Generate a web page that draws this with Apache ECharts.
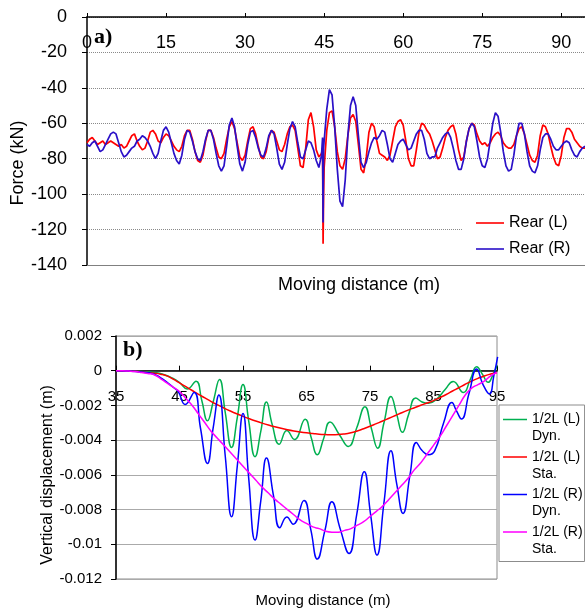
<!DOCTYPE html>
<html>
<head>
<meta charset="utf-8">
<script src="https://cdn.jsdelivr.net/npm/echarts@6/dist/echarts.min.js"></script>
<style>
html,body{margin:0;padding:0;background:#fff;}
#chart{width:585px;height:610px;}
</style>
</head>
<body>
<div id="chart"></div>
<script>
// ---- panel a) : rear wheel forces (kN) vs moving distance (m)
var distA = [0,0.5,1,1.5,2,2.5,3,3.5,4,4.5,5,5.5,6,6.5,7,7.5,8,8.5,9,9.5,
    10,10.5,11,11.5,12,12.5,13,13.5,14,14.5,15,15.5,16,16.5,17,17.5,18,18.5,19,19.5,
    20,20.5,21,21.5,22,22.5,23,23.5,24,24.5,25,25.5,26,26.5,27,27.5,28,28.5,29,29.5,
    30,30.5,31,31.5,32,32.5,33,33.5,34,34.5,35,35.5,36,36.5,37,37.5,38,38.5,39,39.5,
    40,40.5,41,41.5,42,42.5,43,43.5,44,44.5,44.7,44.8,44.9,
    45,45.5,46,46.5,47,47.5,48,48.5,49,49.5,50,50.5,51,51.5,52,52.5,53,53.5,54,54.5,
    55,55.5,56,56.5,57,57.5,58,58.5,59,59.5,60,60.5,61,61.5,62,62.5,63,63.5,64,64.5,
    65,65.5,66,66.5,67,67.5,68,68.5,69,69.5,70,70.5,71,71.5,72,72.5,73,73.5,74,74.5,
    75,75.5,76,76.5,77,77.5,78,78.5,79,79.5,80,80.5,81,81.5,82,82.5,83,83.5,84,84.5,
    85,85.5,86,86.5,87,87.5,88,88.5,89,89.5,90,90.5,91,91.5,92,92.5,93,93.5,94,94.5];
var rearL = [-71,-69,-68,-70,-72,-71,-70,-72,-71,-70,-71,-72,-73,-72,-74,-73,-70,-67,-66,-70,
    -73,-75,-74,-70,-65,-64,-66,-70,-71,-68,-66,-67,-70,-73,-75,-76,-73,-67,-64,-64,
    -69,-76,-81,-82,-78,-70,-64,-64,-68,-74,-79,-80,-77,-69,-62,-59,-63,-71,-79,-81,
    -78,-70,-63,-62,-66,-73,-79,-80,-76,-68,-64,-65,-70,-75,-76,-72,-66,-62,-61,-64,
    -74,-84,-85,-74,-58,-54,-62,-75,-79,-77,-74,-128,-100,
    -85,-64,-54,-53,-62,-76,-84,-86,-80,-67,-57,-55,-59,-72,-86,-88,-79,-65,-60,-62,
    -70,-77,-78,-79,-81,-78,-70,-62,-59,-58,-61,-70,-80,-84,-84,-75,-65,-60,-61,-64,
    -66,-70,-75,-80,-79,-74,-68,-64,-62,-61,-66,-75,-81,-79,-70,-63,-60,-61,-66,-70,
    -72,-71,-73,-71,-68,-66,-65,-67,-71,-73,-74,-74,-72,-67,-63,-62,-66,-72,-78,-81,
    -82,-78,-67,-61,-62,-66,-73,-79,-83,-84,-78,-68,-63,-63,-65,-69,-71,-73,-74,-74];
var rearR = [-72,-73,-71,-70,-73,-76,-75,-72,-69,-66,-65,-66,-71,-76,-79,-78,-76,-74,-73,-70,
    -69,-67,-68,-70,-73,-77,-80,-77,-70,-64,-62,-65,-71,-77,-81,-83,-78,-69,-64,-65,
    -70,-76,-80,-81,-76,-69,-64,-64,-69,-77,-84,-87,-84,-73,-61,-57,-62,-73,-83,-87,
    -82,-72,-65,-64,-68,-74,-78,-79,-74,-67,-64,-66,-74,-83,-86,-82,-72,-63,-59,-62,
    -71,-79,-80,-75,-70,-71,-75,-81,-85,-78,-68,-116,-74,
    -70,-52,-41,-44,-62,-86,-104,-107,-92,-67,-50,-45,-50,-67,-82,-85,-82,-76,-71,-68,
    -69,-67,-64,-65,-72,-80,-82,-77,-72,-70,-69,-72,-75,-74,-70,-66,-64,-64,-69,-77,
    -80,-79,-79,-74,-71,-68,-66,-65,-68,-74,-81,-86,-86,-80,-70,-63,-60,-62,-70,-79,
    -84,-85,-80,-70,-60,-54,-56,-65,-76,-84,-87,-86,-78,-67,-60,-60,-66,-76,-84,-87,
    -88,-84,-75,-68,-66,-66,-69,-73,-75,-75,-73,-71,-70,-71,-75,-78,-79,-76,-74,-73];

// ---- panel b) : mid-span (1/2L) vertical displacement (m)
var distStatic = [35,36,37,38,39,40,41,42,43,44,45,46,47,48,49,50,51,52,53,54,55,56,57,58,59,60,
    61,62,63,64,65,66,67,68,69,70,71,72,73,74,75,76,77,78,79,80,81,82,83,84,85,86,87,88,89,90,
    91,92,93,94,95];
var staLeft = [0,0,-0.00001,-0.00003,-0.00006,-0.0001,-0.00014,-0.0002,-0.0003,-0.00048,-0.0007,
    -0.00092,-0.00114,-0.00136,-0.00157,-0.00178,-0.00197,-0.00215,-0.00232,-0.00248,-0.00263,
    -0.00277,-0.0029,-0.00302,-0.00313,-0.00323,-0.00332,-0.0034,-0.00347,-0.00353,-0.00358,
    -0.00362,-0.00366,-0.00368,-0.00369,-0.00368,-0.00364,-0.00357,-0.00347,-0.00334,-0.0032,
    -0.00305,-0.0029,-0.00274,-0.00258,-0.00242,-0.00227,-0.00213,-0.00199,-0.00186,-0.00172,
    -0.00155,-0.00137,-0.00117,-0.00098,-0.00078,-0.0006,-0.00044,-0.0003,-0.00019,-0.0001];
var staRight = [0,0,-0.00002,-0.00005,-0.0001,-0.00016,-0.00023,-0.00045,-0.0007,-0.00095,-0.0012,
    -0.0016,-0.002,-0.0025,-0.003,-0.0035,-0.0039,-0.0043,-0.0047,-0.0051,-0.0055,
    -0.0059,-0.0063,-0.0067,-0.00705,-0.0074,-0.0077,-0.008,-0.0083,-0.0086,-0.0088,
    -0.009,-0.0091,-0.00925,-0.0093,-0.0093,-0.0092,-0.0091,-0.0089,-0.0087,-0.0084,
    -0.0081,-0.0078,-0.0074,-0.007,-0.0066,-0.0062,-0.0057,-0.0053,-0.0048,-0.0043,
    -0.0038,-0.0032,-0.0026,-0.002,-0.0014,-0.001,-0.0008,-0.0006,-0.0003,-0.0001];

var distDynL = [35,37,39,41,42.5,44,45,46.2,47.6,48.5,49.4,50.3,51.3,52.2,53.2,54.1,55,55.9,56.9,
    57.8,58.7,59.6,60.7,61.9,63.1,64.8,65.7,66.7,67.7,68.7,70.2,71.6,72.9,74.2,75.2,76.2,77.2,
    78.3,79.2,80.1,81.1,82.2,83.2,84.2,85.5,86.8,88.1,89.7,90.8,91.8,92.7,93.6,94.4,95];
var dynLeft = [0,-0.00001,-0.00004,-0.0001,-0.00022,-0.00045,-0.00068,-0.00105,-0.0006,-0.0017,
    -0.00288,-0.0018,-0.0005,-0.0024,-0.00442,-0.0027,-0.0008,-0.0029,-0.00495,-0.0035,-0.0018,
    -0.0031,-0.00423,-0.00344,-0.00396,-0.0028,-0.0038,-0.00484,-0.0039,-0.00295,-0.0037,
    -0.00436,-0.0033,-0.00207,-0.0033,-0.00446,-0.003,-0.00148,-0.0025,-0.00355,-0.0025,
    -0.00157,-0.0018,-0.00188,-0.00163,-0.0011,-0.00062,-0.00125,-0.0005,0.00023,-0.0002,
    -0.00067,-0.0002,0.0003];

var distDynR = [35,37,39,41,42,43,44,44.8,45.9,47.3,48.3,49.4,50.3,51.2,52.2,53.2,54.1,55,55.9,
    56.9,57.8,58.7,59.8,60.8,61.9,62.9,64.6,65.7,66.7,67.9,69,70.3,71.7,72.9,74.1,75.1,76.1,
    77.2,78.3,79.2,80.2,81.3,82.3,83.2,84.2,85.2,86.6,87.9,88.6,89.4,90.6,91.8,92.8,93.8,94.5,95.1];
var dynRight = [0,-0.00002,-0.00008,-0.0002,-0.0004,-0.00065,-0.00095,-0.0012,-0.00195,-0.00125,
    -0.0033,-0.00534,-0.0033,-0.0014,-0.0049,-0.00841,-0.0055,-0.00246,-0.0062,-0.00976,-0.0075,
    -0.00503,-0.0072,-0.00905,-0.00843,-0.00884,-0.00748,-0.0092,-0.01085,-0.0092,-0.00755,
    -0.0091,-0.01053,-0.0083,-0.00582,-0.0083,-0.01062,-0.0076,-0.00461,-0.0065,-0.00822,-0.006,
    -0.00413,-0.0046,-0.00484,-0.0046,-0.003,-0.00183,-0.0023,-0.00278,-0.0013,0.0001,-0.0008,
    -0.00134,-0.0003,0.0008];

var namesB = ['1/2L (L)\nDyn.', '1/2L (L)\nSta.', '1/2L (R)\nDyn.', '1/2L (R)\nSta.'];

function pairs(xs, ys){
    var out = [];
    for(var i = 0; i < xs.length; i++){
        out.push([xs[i], ys[i]]);
    }
    return out;
}

var FONT = '"Liberation Sans", Arial, sans-serif';
var myChart = echarts.init(document.getElementById('chart'));

function lineSeries(name, xi, yi, data, color, smooth, width){
    return {
        name: name,
        type: 'line',
        xAxisIndex: xi,
        yAxisIndex: yi,
        data: data,
        symbol: 'none',
        smooth: smooth,
        lineStyle: { color: color, width: width },
        itemStyle: { color: color }
    };
}

var option = {
    animation: false,
    backgroundColor: '#fff',
    grid: [
        { left: 87, top: 17, width: 498, height: 248 },
        { left: 116, top: 336, width: 381, height: 243, show: true, borderColor: '#8c8c8c', borderWidth: 1 }
    ],
    xAxis: [
        {//---a) distance axis drawn at the top (force = 0)
            type: 'value', gridIndex: 0, min: 0, max: 94.5, interval: 15, position: 'top',
            axisLine: { onZero: false, lineStyle: { color: '#000', width: 1.5 } },
            axisTick: { show: true, inside: false, length: 4, lineStyle: { color: '#000' } },
            axisLabel: { inside: true, margin: 17, fontSize: 18, color: '#000', fontFamily: FONT, showMaxLabel: false },
            splitLine: { show: false }
        },
        {//---b) distance axis moved up to displacement = 0 (243px * 0.012/0.014 above the bottom)
            type: 'value', gridIndex: 1, min: 35, max: 95, interval: 10,
            position: 'bottom', offset: -208.3,
            axisLine: { onZero: false, lineStyle: { color: '#000', width: 1.5 } },
            axisTick: { show: true, inside: true, length: 5, lineStyle: { color: '#000' } },
            axisLabel: { margin: 19, fontSize: 15, color: '#000', fontFamily: FONT },
            splitLine: { show: false }
        },
        {//---a) plain grey bottom edge only
            type: 'value', gridIndex: 0, min: 0, max: 94.5, position: 'bottom',
            axisLine: { onZero: false, lineStyle: { color: '#808080', width: 1 } },
            axisTick: { show: false }, axisLabel: { show: false }, splitLine: { show: false }
        }
    ],
    yAxis: [
        {
            type: 'value', gridIndex: 0, min: -140, max: 0, interval: 20,
            axisLine: { show: true, lineStyle: { color: '#000', width: 1.5 } },
            axisTick: { show: true, length: 5, lineStyle: { color: '#000' } },
            axisLabel: { margin: 20, fontSize: 18, color: '#000', fontFamily: FONT },
            splitLine: { show: true, lineStyle: { color: '#8a8a8a', type: 'dotted', width: 1 } }
        },
        {
            type: 'value', gridIndex: 1, min: -0.012, max: 0.002, interval: 0.002,
            axisLine: { show: true, onZero: false, lineStyle: { color: '#000', width: 1.5 } },
            axisTick: { show: true, length: 5, lineStyle: { color: '#000' } },
            axisLabel: { margin: 14, fontSize: 15, color: '#000', fontFamily: FONT },
            splitLine: { show: true, lineStyle: { color: '#aaaaaa', width: 1 } }
        }
    ],
    legend: [
        {
            data: ['Rear (L)', 'Rear (R)'],
            orient: 'vertical', left: 463, top: 208,
            padding: [7, 20, 7, 13],
            backgroundColor: '#fff',
            itemWidth: 28, itemHeight: 14, itemGap: 10,
            icon: 'path://M0,0L28,0L28,1.6L0,1.6Z',
            textStyle: { fontSize: 16, lineHeight: 14, color: '#000', fontFamily: FONT }
        },
        {
            data: namesB,
            orient: 'vertical', left: 499, top: 405,
            padding: [6, 2, 4, 4],
            backgroundColor: '#fff', borderColor: '#8c8c8c', borderWidth: 1,
            itemWidth: 24, itemHeight: 34, itemGap: 3.5,
            //---line sits on the first text row
            icon: 'path://M0,7.7L24,7.7L24,9.3L0,9.3Z M0,0L0.01,0L0.01,0.01Z M23.99,33.99L24,33.99L24,34Z',
            textStyle: { fontSize: 14, lineHeight: 17, color: '#000', fontFamily: FONT }
        }
    ],
    graphic: [
        { type: 'text', x: 94, y: 37, style: { text: 'a)', font: 'bold 22px "Liberation Serif", serif', fill: '#000', textVerticalAlign: 'middle' } },
        { type: 'text', x: 123, y: 350, style: { text: 'b)', font: 'bold 22px "Liberation Serif", serif', fill: '#000', textVerticalAlign: 'middle' } },
        { type: 'text', x: 18, y: 163, rotation: Math.PI / 2, style: { text: 'Force (kN)', font: '18px ' + FONT, fill: '#000', textAlign: 'center', textVerticalAlign: 'middle' } },
        { type: 'text', x: 359, y: 285, style: { text: 'Moving distance (m)', font: '18px ' + FONT, fill: '#000', textAlign: 'center', textVerticalAlign: 'middle' } },
        { type: 'text', x: 48, y: 475, rotation: Math.PI / 2, style: { text: 'Vertical displacement (m)', font: '16px ' + FONT, fill: '#000', textAlign: 'center', textVerticalAlign: 'middle' } },
        { type: 'text', x: 323, y: 601, style: { text: 'Moving distance (m)', font: '15px ' + FONT, fill: '#000', textAlign: 'center', textVerticalAlign: 'middle' } }
    ],
    series: [
        lineSeries('Rear (L)', 0, 0, pairs(distA, rearL), '#ff0000', false, 1.7),
        lineSeries('Rear (R)', 0, 0, pairs(distA, rearR), '#2a10c8', false, 1.7),
        lineSeries(namesB[0], 1, 1, pairs(distDynL, dynLeft), '#00b050', true, 1.5),
        lineSeries(namesB[1], 1, 1, pairs(distStatic, staLeft), '#ff0000', true, 1.5),
        lineSeries(namesB[2], 1, 1, pairs(distDynR, dynRight), '#0000ff', true, 1.5),
        lineSeries(namesB[3], 1, 1, pairs(distStatic, staRight), '#ff00ff', true, 1.5)
    ]
};

myChart.setOption(option);
</script>
</body>
</html>
